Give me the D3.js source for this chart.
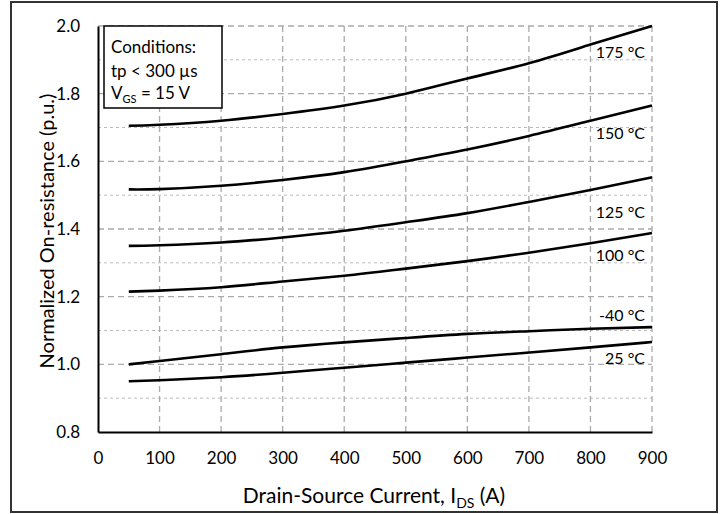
<!DOCTYPE html>
<html><head><meta charset="utf-8">
<script src="https://cdn.jsdelivr.net/npm/d3@7"></script>
<style>body{margin:0;background:#fff}svg{display:block}text{font-family:Lato,"Open Sans",sans-serif;fill:#000}</style>
</head><body><svg id="c" width="727" height="514"></svg>
<script>
const currents = [50, 100, 200, 300, 400, 500, 600, 700, 800, 900];
const r175 = [1.705, 1.708, 1.720, 1.740, 1.765, 1.800, 1.845, 1.890, 1.945, 2.000];
const r150 = [1.517, 1.518, 1.528, 1.545, 1.568, 1.600, 1.635, 1.675, 1.720, 1.765];
const r125 = [1.350, 1.352, 1.360, 1.375, 1.395, 1.420, 1.447, 1.480, 1.515, 1.553];
const r100 = [1.215, 1.218, 1.228, 1.245, 1.262, 1.283, 1.305, 1.330, 1.358, 1.388];
const rm40 = [1.000, 1.010, 1.030, 1.050, 1.065, 1.078, 1.090, 1.098, 1.105, 1.110];
const r25  = [0.950, 0.953, 0.962, 0.975, 0.990, 1.005, 1.020, 1.035, 1.050, 1.066];
const seriesNames = ["175 °C", "150 °C", "125 °C", "100 °C", "-40 °C", "25 °C"];
const seriesVals = [r175, r150, r125, r100, rm40, r25];
const labelVals = [1.923, 1.684, 1.450, 1.323, 1.146, 1.019];
const xTicks = [0,100,200,300,400,500,600,700,800,900];
const yTicks = [0.8,1.0,1.2,1.4,1.6,1.8,2.0];
const yMinor = [0.9,1.1,1.3,1.5,1.7,1.9];
const condLines = ["Conditions:", "tp < 300 µs"];

const svg = d3.select("#c");
svg.append("rect").attr("x",11).attr("y",2).attr("width",706).attr("height",510)
  .attr("fill","none").attr("stroke","#333").attr("stroke-width",2);

const x = d3.scaleLinear().domain([0,900]).range([98,652]);
const y = d3.scaleLinear().domain([0.8,2.0]).range([432,26]);

const g = svg.append("g");
g.selectAll(".ym").data(yMinor).join("line")
  .attr("x1",x(0)).attr("x2",x(900)).attr("y1",d=>y(d)).attr("y2",d=>y(d))
  .attr("stroke","#bbb").attr("stroke-width",1).attr("stroke-dasharray","3,3");
g.selectAll(".yM").data(yTicks.filter(d=>d>0.8)).join("line")
  .attr("x1",x(0)).attr("x2",x(900)).attr("y1",d=>y(d)).attr("y2",d=>y(d))
  .attr("stroke","#aaa").attr("stroke-width",1.3).attr("stroke-dasharray","6,4");
g.selectAll(".xg").data(xTicks.filter(d=>d>0)).join("line")
  .attr("x1",d=>x(d)).attr("x2",d=>x(d)).attr("y1",y(0.8)).attr("y2",y(2.0))
  .attr("stroke","#aaa").attr("stroke-width",1.3).attr("stroke-dasharray","6,4");

const xa = svg.append("g").attr("transform",`translate(0,${y(0.8)})`)
  .call(d3.axisBottom(x).tickValues(xTicks).tickSize(0).tickPadding(20).tickFormat(d3.format("d")));
const ya = svg.append("g").attr("transform",`translate(${x(0)},0)`)
  .call(d3.axisLeft(y).tickValues(yTicks).tickSize(0).tickPadding(18).tickFormat(d3.format(".1f")));
[xa,ya].forEach(a=>{
  a.select(".domain").attr("stroke","#000").attr("stroke-width",2);
  a.selectAll("text").attr("font-size",17).attr("fill","#000").style("font-family","Lato");
});

const line = d3.line().x((d,i)=>x(currents[i])).y(d=>y(d)).curve(d3.curveNatural);
svg.selectAll(".curve").data(seriesVals).join("path")
  .attr("d",d=>line(d)).attr("fill","none").attr("stroke","#000").attr("stroke-width",2.6);

svg.selectAll(".lbl").data(seriesNames).join("text")
  .attr("x",645).attr("y",(d,i)=>y(labelVals[i])).attr("dy","0.35em")
  .attr("text-anchor","end").attr("font-size",16).text(d=>d);

svg.append("rect").attr("x",104).attr("y",26).attr("width",118).attr("height",82)
  .attr("fill","#fff").attr("stroke","#000").attr("stroke-width",1.5);
svg.selectAll(".cond").data(condLines).join("text")
  .attr("x",111).attr("y",(d,i)=>47+i*24).attr("dy","0.35em").attr("font-size",17).text(d=>d);
const vt = svg.append("text").attr("x",111).attr("y",93).attr("dy","0.35em").attr("font-size",17);
vt.append("tspan").text("V");
vt.append("tspan").attr("font-size",11).attr("dy",4).text("GS");
vt.append("tspan").attr("dy",-4).text(" = 15 V");

const xt = svg.append("text").attr("x",374).attr("y",496).attr("dy","0.35em")
  .attr("text-anchor","middle").attr("font-size",21);
xt.append("tspan").text("Drain-Source Current, I");
xt.append("tspan").attr("font-size",14).attr("dy",5).text("DS");
xt.append("tspan").attr("dy",-5).text(" (A)");
svg.append("text").attr("transform","translate(47,231) rotate(-90)").attr("dy","0.35em")
  .attr("text-anchor","middle").attr("font-size",20).text("Normalized On-resistance (p.u.)");
</script></body></html>
